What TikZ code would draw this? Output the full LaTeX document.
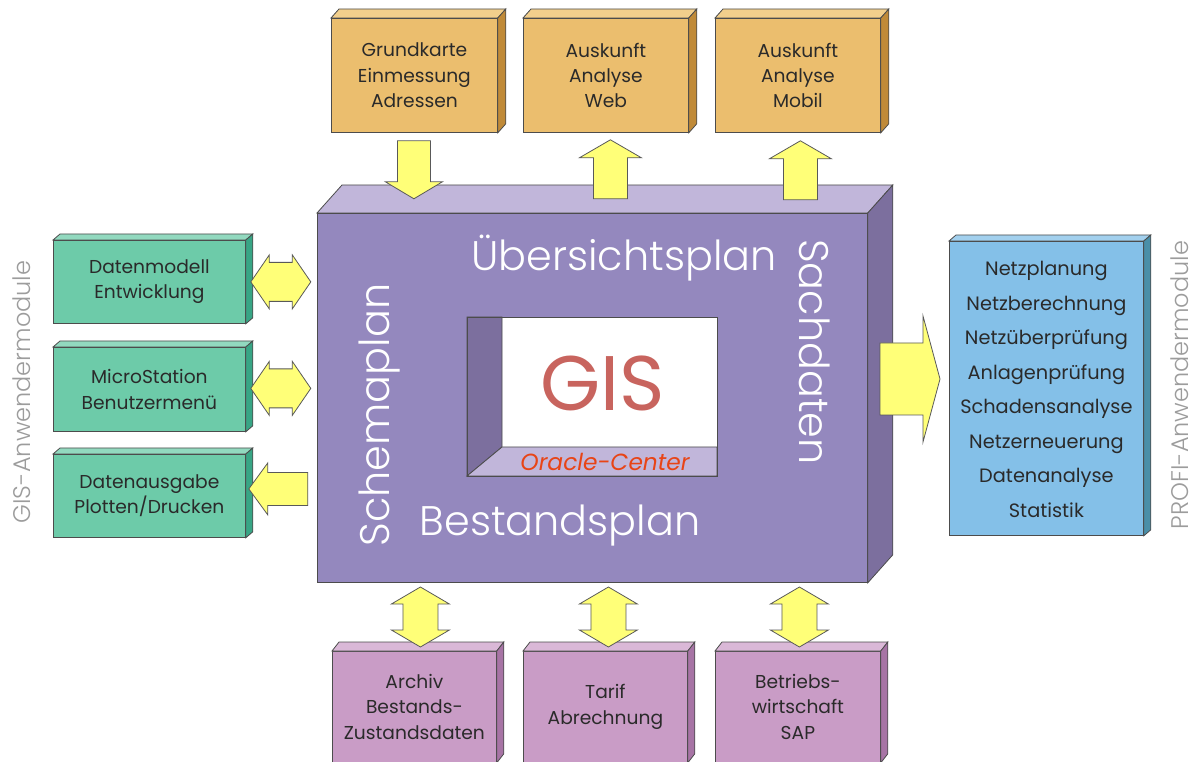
\documentclass[tikz,border=0pt]{standalone}
\usepackage{fontspec}
\setmainfont{Poppins}
\newfontfamily\duenn{Poppins Light}
\usetikzlibrary{positioning,calc}

\definecolor{textdunkel}{HTML}{2A2A2A}
\definecolor{pfeilgelb}{HTML}{FFFF78}
\definecolor{orfront}{HTML}{EBBE6E}
\definecolor{ortop}{HTML}{F2CF8C}
\definecolor{orside}{HTML}{C08A38}
\definecolor{grfront}{HTML}{6DCBA9}
\definecolor{grtop}{HTML}{92D9BF}
\definecolor{grside}{HTML}{38A585}
\definecolor{blfront}{HTML}{84C0E8}
\definecolor{bltop}{HTML}{A2D0EE}
\definecolor{blside}{HTML}{4A8FA8}
\definecolor{vifront}{HTML}{C99CC6}
\definecolor{vitop}{HTML}{DAB8D7}
\definecolor{viside}{HTML}{A774A5}
\definecolor{hafront}{HTML}{9488BE}
\definecolor{hatop}{HTML}{C1B6DA}
\definecolor{haside}{HTML}{7C6F9E}
\definecolor{gisrot}{HTML}{C8645E}
\definecolor{oraclerot}{HTML}{E84416}
\definecolor{seitengrau}{HTML}{9C9C9C}

\tikzset{
  kante/.style={draw=black!70, line width=0.6pt},
  pfeil/.style={fill=pfeilgelb, draw=black!65, line width=0.6pt, line join=miter},
  boxtext/.style={font=\fontsize{14}{19}\selectfont, text=textdunkel, align=center},
  haupttext/.style={font=\duenn\fontsize{31}{36}\selectfont, text=white},
  seitentext/.style={font=\duenn\fontsize{18}{21}\selectfont, text=seitengrau, inner sep=0pt},
  % block arrows
  pics/pfeilrunter/.style={code={
    \filldraw[pfeil] (-16.5,0) -- (16.5,0) -- (16.5,41) -- (28.5,41) -- (0,58)
      -- (-28.5,41) -- (-16.5,41) -- cycle;}},
  pics/pfeilhoch/.style={code={
    \filldraw[pfeil] (0,0) -- (31,18) -- (17,18) -- (17,59) -- (-17,59)
      -- (-17,18) -- (-31,18) -- cycle;}},
  pics/doppelpfeilh/.style={code={
    \filldraw[pfeil] (-30,0) -- (-11.5,-27) -- (-11.5,-19.5) -- (11.5,-19.5)
      -- (11.5,-27) -- (30,0) -- (11.5,27) -- (11.5,19.5) -- (-11.5,19.5)
      -- (-11.5,27) -- cycle;}},
  pics/doppelpfeilv/.style={code={
    \filldraw[pfeil] (0,-30) -- (29,-13) -- (17.5,-13) -- (17.5,13) -- (29,13)
      -- (0,30) -- (-29,13) -- (-17.5,13) -- (-17.5,-13) -- (-29,-13) -- cycle;}},
  pics/pfeillinks/.style={code={
    \filldraw[pfeil] (0,0) -- (19,-26) -- (19,-16.5) -- (59,-16.5) -- (59,16.5)
      -- (19,16.5) -- (19,26) -- cycle;}},
  pics/pfeilrechts/.style={code={
    \filldraw[pfeil] (0,0) -- (-17,-63) -- (-17,-36) -- (-60,-36) -- (-60,36)
      -- (-17,36) -- (-17,63) -- cycle;}}
}

% 3D box: name, x, y (front top left), width, height, depth x, depth y, colour prefix, text
\newcommand{\quader}[9]{%
  \node[kante, fill=#8front, boxtext, anchor=north west,
        minimum width=#4*0.75pt, minimum height=#5*0.75pt] (#1) at (#2,#3) {#9};
  \filldraw[kante, fill=#8top] (#1.north west) -- ++(#6,-#7)
    -- ($(#1.north east)+(#6,-#7)$) -- (#1.north east) -- cycle;
  \filldraw[kante, fill=#8side] (#1.north east) -- ++(#6,-#7)
    -- ($(#1.south east)+(#6,-#7)$) -- (#1.south east) -- cycle;
}

\begin{document}
\begin{tikzpicture}[x=0.75pt, y=-0.75pt]
  \useasboundingbox (0,0) rectangle (1195,762);
  \clip (0,0) rectangle (1195,762);

  % main block
  \quader{haupt}{317}{213}{550}{369}{25}{28}{ha}{}

  % window with GIS
  \fill[white] (502,317) rectangle (717,447);
  \filldraw[kante, fill=haside] (467,317) -- (502,317) -- (502,447) -- (467,476) -- cycle;
  \filldraw[kante, fill=hatop] (467,476) -- (502,447) -- (717,447) -- (717,476) -- cycle;
  \draw[kante] (467,317) rectangle (717,476);
  \node[font=\fontsize{58}{60}\selectfont, text=gisrot] (gis) at (603,383) {GIS};
  \node[font=\itshape\fontsize{17.5}{19}\selectfont, text=oraclerot] (oracle) at (605,462) {Oracle-Center};

  % labels on the main block
  \node[haupttext] (uebersicht) at (624,258) {Übersichtsplan};
  \node[haupttext] (bestand) at (560,526) {Bestandsplan};
  \node[haupttext, rotate=90] (schema) at (380,415) {Schemaplan};
  \node[haupttext, rotate=-90] (sach) at (815,352) {Sachdaten};

  % top boxes
  \quader{o1}{331}{18}{166}{114}{8}{9}{or}{Grundkarte\\Einmessung\\Adressen}
  \quader{o2}{523}{18}{165}{114}{8}{9}{or}{Auskunft\\Analyse\\Web}
  \quader{o3}{715}{18}{165}{114}{8}{9}{or}{Auskunft\\Analyse\\Mobil}

  % left boxes
  \quader{l1}{53}{240}{192}{83}{7}{6}{gr}{Datenmodell\\Entwicklung}
  \quader{l2}{53}{347}{192}{84}{7}{6}{gr}{MicroStation\\Benutzermenü}
  \quader{l3}{53}{454}{192}{83}{7}{6}{gr}{Datenausgabe\\Plotten/Drucken}

  % right box
  \quader{r}{949}{241}{194}{294}{7}{6}{bl}{}
  \node[boxtext, font=\fontsize{14.5}{25.9}\selectfont] (rtext) at ($(r.center)+(0,1)$)
    {Netzplanung\\Netzberechnung\\Netzüberprüfung\\Anlagenprüfung\\Schadensanalyse\\Netzerneuerung\\Datenanalyse\\Statistik};

  % bottom boxes
  \quader{u1}{332}{651}{164}{111}{7}{9}{vi}{Archiv\\Bestands-\\Zustandsdaten}
  \quader{u2}{523}{651}{164}{111}{7}{9}{vi}{Tarif\\Abrechnung}
  \quader{u3}{715}{651}{165}{111}{7}{9}{vi}{Betriebs-\\wirtschaft\\SAP}

  % arrows
  \pic at ($(o1.south)+(-0.5,8)$) {pfeilrunter};
  \pic at ($(o2.south)+(4.5,7)$) {pfeilhoch};
  \pic at ($(o3.south)+(2.5,8)$) {pfeilhoch};
  \pic at ($(l1.east)+(35,0)$) {doppelpfeilh};
  \pic at ($(l2.east)+(35,-1)$) {doppelpfeilh};
  \pic at ($(l3.east)+(3,-7)$) {pfeillinks};
  \pic at (940,379) {pfeilrechts};
  \pic at ($(u1.north)+(6,-34)$) {doppelpfeilv};
  \pic at ($(u2.north)+(3,-34)$) {doppelpfeilv};
  \pic at ($(u3.north)+(1.5,-34)$) {doppelpfeilv};

  % side captions
  \node[seitentext, rotate=90] (gisanw) at (22,392) {GIS-Anwendermodule};
  \node[seitentext, rotate=90] (profianw) at (1180,385) {PROFI-Anwendermodule};
\end{tikzpicture}
\end{document}
